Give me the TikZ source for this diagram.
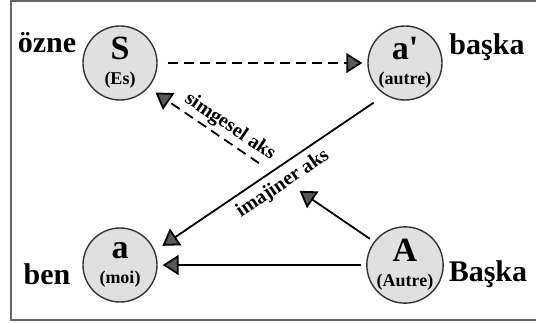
\documentclass[tikz,border=0pt]{standalone}
\usepackage{fontspec}
\setmainfont{Liberation Serif}
\usetikzlibrary{arrows.meta,calc}
\tikzset{place/.style={circle,draw=black!80,line width=1.4pt,fill=black!12,
        minimum size=74pt,inner sep=0pt,align=center,
        font=\fontsize{18}{25}\selectfont\bfseries},
    tag/.style={font=\fontsize{30}{30}\selectfont\bfseries,anchor=base},
    axislabel/.style={font=\fontsize{20}{20}\selectfont\bfseries},
    link/.style={-{Triangle[length=16pt,width=20pt,fill=black!65]},line width=1.8pt},
    dlink/.style={link,dash pattern=on 10pt off 6pt},
    frame/.style={draw=black!60,line width=2pt},
    }
\newcommand{\circtext}[2]{{\fontsize{34}{34}\selectfont #1}\\#2}

\begin{document}
\begin{tikzpicture}[x=1pt,y=-1pt]
\useasboundingbox (0,0) rectangle (536,323);
\draw[frame] (540,1.5) -- (11,1.5) -- (11,320.5) -- (540,320.5);
% the four places
\node[place] (S) at (120,63) {\circtext{S}{(Es)}};
\node[place] (aa) at (405,63) {\circtext{a\textquotesingle}{(autre)}};
\node[place] (a) at (120,265) {\circtext{a}{(moi)}};
\node[place] (A) at (405,265) {\circtext{A}{(Autre)}};
\node[tag] (ozne) at (47,53) {özne};
\node[tag] (baska) at (487,55) {başka};
\node[tag] (ben) at (47,285) {ben};
\node[tag] (Baska) at (488,282) {Başka};
% symbolic axis, cut by the imaginary one
\coordinate (symA) at ($(A.143)!0.33!(S.319)$);
\coordinate (symS) at ($(A.143)!0.51!(S.319)$);
\draw[link,shorten <=5pt] (A.143) -- (symA);
\draw[dlink,shorten >=8.5pt] (symS) -- (S.319);
\draw[dlink,shorten <=10pt,shorten >=5pt] (S.east) -- (aa.west);
\draw[link,shorten <=13.7pt,shorten >=9pt] (aa.238) -- (a.22);
\draw[link,shorten <=5pt,shorten >=5pt] (A.west) -- (a.east);
\node[axislabel,rotate=-34] (sym) at (230,127) {simgesel aks};
\node[axislabel,rotate=34] (imag) at (283,184) {imajiner aks};
\end{tikzpicture}
\end{document}
